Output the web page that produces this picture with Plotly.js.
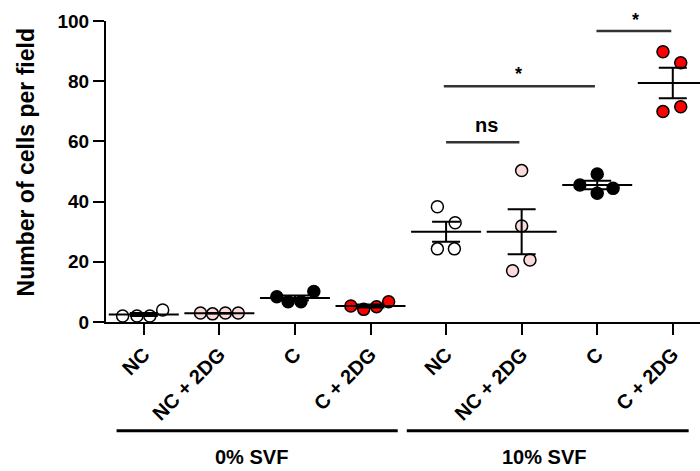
<!DOCTYPE html>
<html>
<head>
<meta charset="utf-8">
<script src="https://cdn.plot.ly/plotly-3.0.1.min.js"></script>
<style>
  html, body { margin: 0; padding: 0; background: #fff; }
  #chart { width: 700px; height: 471px; }
</style>
</head>
<body>
<div id="chart"></div>
<script>
// ---- Data ----
const categories = ["NC", "NC + 2DG", "C", "C + 2DG", "NC", "NC + 2DG", "C", "C + 2DG"];
const groupLabels = ["0% SVF", "10% SVF"];

const valsNC0    = [2.0, 2.0, 2.0, 4.0];
const valsNC2DG0 = [3.0, 2.7, 3.0, 3.0];
const valsC0     = [8.4, 6.7, 6.7, 10.1];
const valsC2DG0  = [5.3, 4.2, 5.1, 6.7];
const valsNC10    = [38.3, 33.0, 24.3, 24.3];
const valsNC2DG10 = [50.3, 31.9, 20.6, 17.0];
const valsC10     = [49.2, 45.5, 44.4, 42.8];
const valsC2DG10  = [89.8, 86.1, 69.9, 71.5];
const pointValues = [valsNC0, valsNC2DG0, valsC0, valsC2DG0, valsNC10, valsNC2DG10, valsC10, valsC2DG10];

const means = [2.5, 2.9, 8.0, 5.3, 30.0, 30.0, 45.5, 79.4];
const sems  = [0.5, 0.1, 0.8, 0.5, 3.3, 7.5, 1.4, 5.1];

// horizontal scatter of the dots (as seen in the picture)
const jitter = [
  [-0.28, -0.09, 0.08, 0.25],
  [-0.25, -0.09, 0.08, 0.25],
  [-0.24, -0.09, 0.08, 0.25],
  [-0.26, -0.09, 0.08, 0.24],
  [-0.115, 0.12, -0.115, 0.11],
  [0, 0, 0.11, -0.12],
  [0, -0.23, 0.21, 0],
  [-0.13, 0.105, -0.13, 0.105]
];

// significance comparisons
const sigFrom   = [5.99, 3.97, 4.0];
const sigTo     = [6.98, 5.97, 4.97];
const sigY      = [96.7, 78.3, 59.7];
const sigLabel  = ["*", "*", "ns"];
const sigLabelX = [6.5, 4.96, 4.53];
const sigLabelY = [100.4, 82.4, 65.3];

// ---- Styles ----
const fills = ["#ffffff", "#fadada", "#000000", "#ff0000", "#ffffff", "#fadada", "#000000", "#ff0000"];
const FONT = "Liberation Sans, Arial, Helvetica, sans-serif";
const Y_MAX = 100;

const traces = [];
pointValues.forEach((vals, g) => {
  traces.push({
    type: "scatter",
    mode: "markers",
    x: vals.map((v, i) => g + jitter[g][i]),
    y: vals,
    marker: { size: 12, color: fills[g], line: { color: "#000", width: 1.5 } },
    cliponaxis: false,
    showlegend: false,
    hoverinfo: "y"
  });
});

traces.push({
  type: "scatter",
  mode: "markers",
  x: categories.map((c, i) => i),
  y: means,
  marker: { symbol: "line-ew-open", size: 50, color: "#000", line: { color: "#000", width: 2 } },
  error_y: { type: "data", array: sems, visible: true, color: "#000", thickness: 2, width: 14 },
  cliponaxis: false,
  showlegend: false
});

const shapes = [];
const annotations = [];

sigFrom.forEach((f, i) => {
  shapes.push({ type: "line", xref: "x", yref: "y", x0: f, x1: sigTo[i], y0: sigY[i], y1: sigY[i],
                line: { color: "#333", width: 2.5 } });
  annotations.push({ xref: "x", yref: "paper", x: sigLabelX[i], y: sigLabelY[i] / Y_MAX, text: sigLabel[i],
                     showarrow: false, xanchor: "center", yanchor: "middle",
                     font: { family: FONT, size: sigLabel[i] === "ns" ? 20 : 18, color: "#000", weight: 700 } });
});

// group brackets under the axis
const groupFrom = [-0.36, 3.48];
const groupTo   = [3.36, 7.21];
const groupLabelX = [1.42, 5.3];
groupLabels.forEach((lab, i) => {
  shapes.push({ type: "line", xref: "x", yref: "paper", x0: groupFrom[i], x1: groupTo[i], y0: -0.361, y1: -0.361,
                line: { color: "#000", width: 3 } });
  annotations.push({ xref: "x", yref: "paper", x: groupLabelX[i], y: -0.4485, text: lab, showarrow: false,
                     xanchor: "center", yanchor: "middle",
                     font: { family: FONT, size: 20, color: "#000", weight: 700 } });
});

// y-axis title
annotations.push({ xref: "paper", yref: "paper", x: -0.1347, y: 0.53, text: "Number of cells per field",
                   textangle: -90, showarrow: false, xanchor: "center", yanchor: "middle",
                   font: { family: FONT, size: 23, color: "#000", weight: 700 } });

const layout = {
  width: 700, height: 471,
  margin: { l: 106, r: 0, t: 21, b: 149 },
  paper_bgcolor: "#fff", plot_bgcolor: "#fff",
  showlegend: false,
  xaxis: {
    range: [-0.5, 7.36], tickvals: categories.map((c, i) => i), ticktext: categories,
    tickangle: -45, ticks: "outside", ticklen: 11, tickwidth: 2, tickcolor: "#000",
    showline: true, linewidth: 2, linecolor: "#000", showgrid: false, zeroline: false,
    tickfont: { family: FONT, size: 20, color: "#000", weight: 700 }
  },
  yaxis: {
    range: [0, Y_MAX], tickvals: [0, 20, 40, 60, 80, 100],
    ticks: "outside", ticklen: 11, tickwidth: 2, tickcolor: "#000",
    showline: true, linewidth: 2, linecolor: "#000", showgrid: false, zeroline: false,
    tickfont: { family: FONT, size: 19, color: "#000", weight: 700 }
  },
  shapes: shapes,
  annotations: annotations
};

Plotly.newPlot("chart", traces, layout, { displayModeBar: false, staticPlot: true });
</script>
</body>
</html>
